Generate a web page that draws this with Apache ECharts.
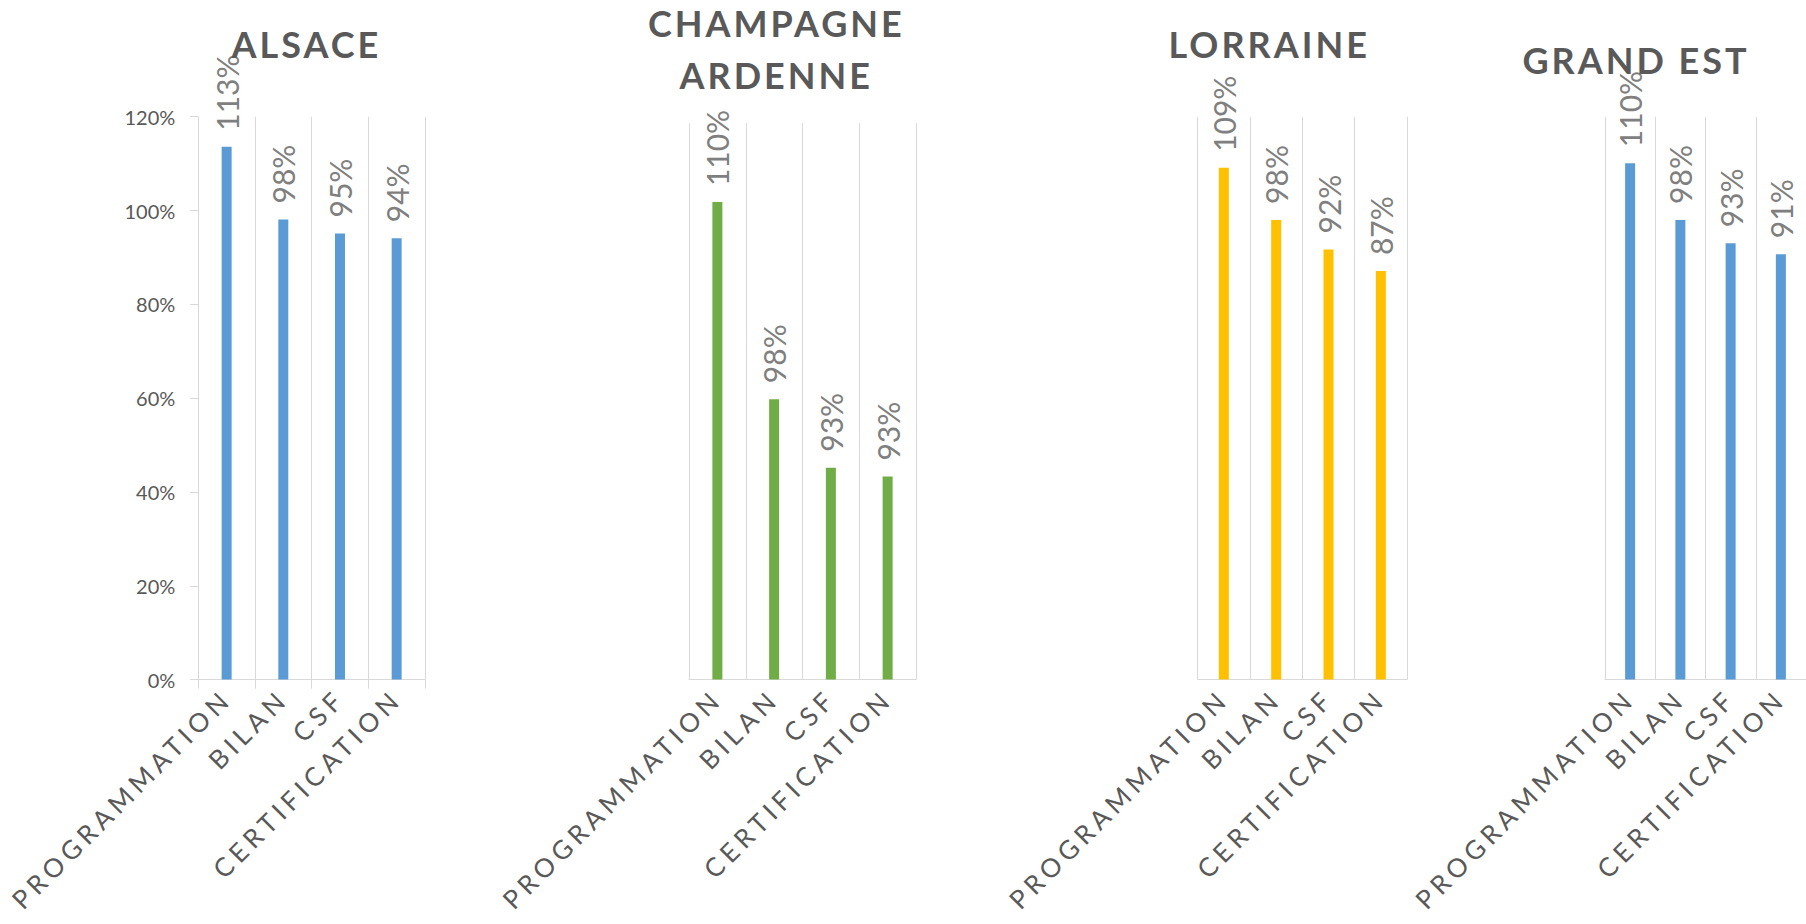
<!DOCTYPE html>
<html><head><meta charset="utf-8">
<script src="https://cdn.jsdelivr.net/npm/echarts@6/dist/echarts.min.js"></script>
<style>
html,body{margin:0;padding:0;background:#fff}
#c{width:1806px;height:924px}
#c text[style*="36px"]{letter-spacing:3px}
#c text[style*="26px"]{letter-spacing:5px}
</style></head><body><div id="c"></div><script>
const categories = ['PROGRAMMATION', 'BILAN', 'CSF', 'CERTIFICATION'];
const regionTitles = ['ALSACE', 'CHAMPAGNE\nARDENNE', 'LORRAINE', 'GRAND EST'];
const alsaceValues = [113.6, 98.1, 95.1, 94.1];
const alsaceLabels = ['113%', '98%', '95%', '94%'];
const champagneValues = [103.0, 60.5, 45.7, 43.8];
const champagneLabels = ['110%', '98%', '93%', '93%'];
const lorraineValues = [109.1, 98.0, 91.7, 87.1];
const lorraineLabels = ['109%', '98%', '92%', '87%'];
const grandEstValues = [110.1, 98.0, 93.0, 90.7];
const grandEstLabels = ['110%', '98%', '93%', '91%'];
const yMin = 0, yMax = 120, yStep = 20;

const BLUE = '#5B9BD5', GREEN = '#70AD47', GOLD = '#FFC000';
const GRID_C = '#D9D9D9', TXT = '#595959', LBL = '#7F7F7F';
const FONT = 'Lato';

const panels = [
  {title: regionTitles[0], values: alsaceValues, labels: alsaceLabels, color: BLUE,
   grid: {left: 198.3, top: 116.7, width: 226.7, height: 562.9}, titleX: 301.3, titleTop: 13, yAxis: true, ticks: true},
  {title: regionTitles[1], values: champagneValues, labels: champagneLabels, color: GREEN,
   grid: {left: 689, top: 123.3, width: 227, height: 556.3}, titleX: 771.3, titleTop: -8, yAxis: false, ticks: false},
  {title: regionTitles[2], values: lorraineValues, labels: lorraineLabels, color: GOLD,
   grid: {left: 1197.7, top: 116.7, width: 209.3, height: 562.9}, titleX: 1264.2, titleTop: 13, yAxis: false, ticks: false},
  {title: regionTitles[3], values: grandEstValues, labels: grandEstLabels, color: BLUE,
   grid: {left: 1605, top: 116.7, width: 210, height: 562.9}, titleX: 1631, titleTop: 29, yAxis: false, ticks: false}
];

const chart = echarts.init(document.getElementById('c'), null, {renderer: 'svg'});
const option = {
  animation: false,
  backgroundColor: '#fff',
  title: panels.map(p => ({
    text: p.title, left: p.titleX, top: p.titleTop, textAlign: 'center',
    textStyle: {fontFamily: FONT, fontWeight: 'bold', fontSize: 36, color: TXT, lineHeight: 52}
  })),
  grid: panels.map(p => Object.assign({containLabel: false}, p.grid)),
  xAxis: panels.map((p, i) => ({
    type: 'category', gridIndex: i, data: categories,
    axisLine: {show: true, lineStyle: {color: GRID_C, width: 1}},
    axisTick: {show: p.ticks, interval: 0, length: 9, lineStyle: {color: GRID_C}},
    splitLine: {show: true, interval: 0, lineStyle: {color: GRID_C, width: 1}},
    axisLabel: {interval: 0, rotate: 45, margin: 14, fontFamily: FONT, fontSize: 26, color: TXT}
  })),
  yAxis: panels.map((p, i) => ({
    type: 'value', gridIndex: i, min: yMin, max: yMax, interval: yStep, show: p.yAxis,
    axisLine: {show: false},
    axisTick: {show: true, length: 8, lineStyle: {color: GRID_C}},
    splitLine: {show: false},
    axisLabel: {formatter: '{value}%', margin: 23, fontFamily: FONT, fontSize: 20, color: TXT}
  })),
  series: panels.map((p, i) => ({
    type: 'bar', xAxisIndex: i, yAxisIndex: i, data: p.values, barWidth: 10,
    itemStyle: {color: p.color},
    label: {show: true, position: 'top', rotate: 90, align: 'left', verticalAlign: 'middle', distance: 16,
      fontFamily: FONT, fontSize: 30, color: LBL,
      formatter: (params) => p.labels[params.dataIndex]}
  }))
};
chart.setOption(option);
</script></body></html>
